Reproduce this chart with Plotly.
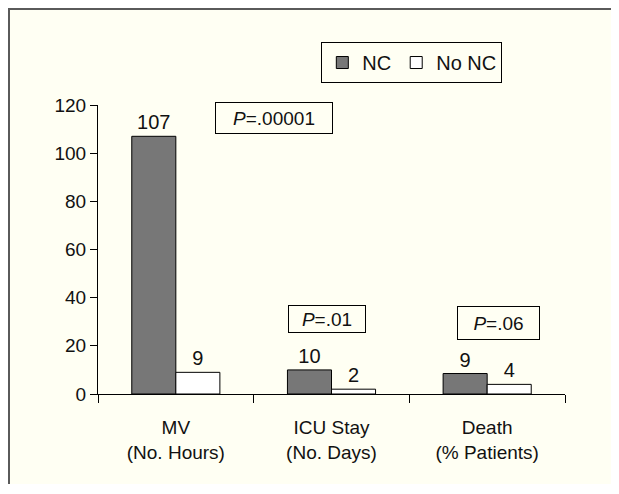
import plotly.graph_objects as go

categories = ["MV<br>(No. Hours)", "ICU Stay<br>(No. Days)", "Death<br>(% Patients)"]
nc_values = [107, 10, 8.5]
nc_labels = ["107", "10", "9"]
nonc_values = [9, 2, 4]
nonc_labels = ["9", "2", "4"]
p_texts = ["<i>P</i>=.00001", "<i>P</i>=.01", "<i>P</i>=.06"]
p_x = [0.63, 0.97, 2.07]
p_y = [114.6, 31.1, 29.5]
p_w = [112, 72, 77]
p_h = [26, 22, 28]
y_ticks = [0, 20, 40, 60, 80, 100, 120]

FONT = "Liberation Sans, Arial, Helvetica, sans-serif"
CREAM = "#fffff3"
W, H = 603, 476
ML, MR, MT, MB = 90, 46, 97, 90
PW, PH = W - ML - MR, H - MT - MB

fig = go.Figure()
fig.add_trace(go.Bar(
    x=categories, y=nc_values, name="NC", text=nc_labels,
    textposition="outside", cliponaxis=False,
    marker=dict(color="#777777", line=dict(color="black", width=1)),
    textfont=dict(size=20, color="#111111"),
))
fig.add_trace(go.Bar(
    x=categories, y=nonc_values, name="No NC", text=nonc_labels,
    textposition="outside", cliponaxis=False,
    marker=dict(color="white", line=dict(color="black", width=1)),
    textfont=dict(size=20, color="#111111"),
))

for t, x, y, w, h in zip(p_texts, p_x, p_y, p_w, p_h):
    fig.add_annotation(
        x=x, y=y, xref="x", yref="y", text=t, showarrow=False,
        bordercolor="black", borderwidth=1, borderpad=2,
        width=w, height=h, bgcolor=CREAM,
        font=dict(size=19, color="#111111", family=FONT),
    )

# gray frame along the left and top edges of the figure
x_left = -ML / PW
y_top = 1 + MT / PH
fig.add_shape(type="line", xref="paper", yref="paper",
              x0=x_left, x1=x_left, y0=-MB / PH - 0.1, y1=y_top,
              line=dict(color="#5a5a5a", width=4))
fig.add_shape(type="line", xref="paper", yref="paper",
              x0=x_left, x1=1 + MR / PW + 0.1, y0=y_top, y1=y_top,
              line=dict(color="#5a5a5a", width=4))

fig.update_layout(
    width=W, height=H,
    margin=dict(l=ML, r=MR, t=MT, b=MB),
    paper_bgcolor=CREAM, plot_bgcolor=CREAM,
    barmode="group", bargap=0.434, bargroupgap=0,
    font=dict(family=FONT, size=19, color="#111111"),
    showlegend=True,
    legend=dict(orientation="h", x=0.672, y=1.147, xanchor="center", yanchor="middle",
                bordercolor="black", borderwidth=1, bgcolor=CREAM,
                font=dict(size=20), itemwidth=30, traceorder="normal"),
)
fig.update_xaxes(
    showline=True, linecolor="black", linewidth=1,
    ticks="outside", ticklen=8, tickcolor="black", tickson="boundaries",
    ticklabelstandoff=16,
    showgrid=False, zeroline=False, range=[-0.5, 2.5],
)
fig.update_yaxes(
    showline=True, linecolor="black", linewidth=1,
    ticks="outside", ticklen=7, tickcolor="black",
    tickvals=y_ticks, range=[0, 120], showgrid=False, zeroline=False,
)

fig.write_html("out.html", config={"displayModeBar": False})
